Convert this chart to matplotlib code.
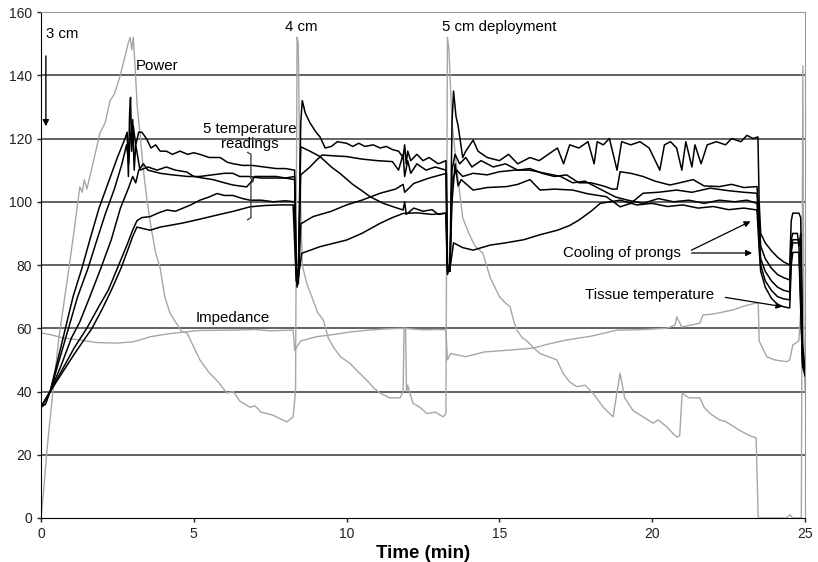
import matplotlib
matplotlib.use("Agg")
import matplotlib.pyplot as plt

plt.rcParams['font.family'] = ['Liberation Sans', 'DejaVu Sans']

# power (gray)
power_t = [0, 0.1, 0.2, 0.39, 0.6, 0.9, 1.1, 1.27, 1.35, 1.42, 1.5, 1.6, 1.93, 2.1, 2.26, 2.4, 2.58, 2.75,
           2.85, 2.92, 2.97, 3.02, 3.08, 3.15, 3.24, 3.35, 3.47, 3.6, 3.75, 3.9, 4.05, 4.22, 4.4, 4.6, 4.78,
           5.0, 5.2, 5.5, 5.8, 6.08, 6.3, 6.5, 6.84, 7.0, 7.2, 7.39, 7.6, 7.8, 8.05, 8.25, 8.33, 8.38, 8.42,
           8.47, 8.55, 8.7, 8.86, 9.05, 9.24, 9.4, 9.57, 9.8, 10.1, 10.4, 10.66, 10.9, 11.1, 11.4, 11.75,
           11.85, 11.88, 11.93, 11.96, 12.0, 12.17, 12.4, 12.63, 12.9, 13.16, 13.25, 13.3, 13.35, 13.45,
           13.6, 13.8, 14.0, 14.2, 14.46, 14.7, 15.0, 15.2, 15.35, 15.45, 15.57, 15.75, 15.9, 16.1, 16.33,
           16.6, 16.88, 17.08, 17.3, 17.54, 17.8, 18.06, 18.4, 18.72, 18.95, 19.1, 19.37, 19.7, 20.03,
           20.2, 20.48, 20.65, 20.81, 20.9, 20.98, 21.2, 21.56, 21.7, 21.9, 22.2, 22.4, 22.65, 22.9, 23.2,
           23.4, 23.47, 24.4, 24.5, 24.6, 24.88, 24.93, 24.96, 25]
power_v = [0, 10, 22, 40, 58, 78, 92, 104.7, 103, 107, 104, 108, 121.7, 125, 132, 134, 139.5, 146,
           150, 152, 148, 152, 142.6, 130, 121.7, 110, 100.5, 92, 84, 79, 70, 64.8, 62, 59, 58.5,
           54, 50, 46, 43, 39.5, 40, 37, 35, 35.5, 33.5, 33, 32.5, 31.5, 30.4, 32, 40, 152, 150,
           110, 80, 74, 70, 65, 62.6, 57, 54, 51, 49, 46, 43.6, 41, 39.5, 38, 38,
           40, 60, 60, 40, 42, 36.3, 35, 33, 33.5, 32, 33, 152, 148, 125,
           111, 95, 90, 86, 83.7, 76, 70, 68, 66.8, 63, 59.4, 57, 56, 54, 52,
           51, 50, 45.8, 43, 41.5, 42, 39.5, 35, 32, 45.8, 38, 34, 32, 30,
           31, 28.8, 27, 25.6, 26, 39.5, 38, 38, 35, 33, 31, 30.5, 29, 27.5, 26,
           25.3, 0, 0, 1, 0, 0, 143, 60, 40]

# impedance (gray)
imp_t = [0, 0.3, 0.7, 1.27, 1.8, 2.48, 3.0, 3.3, 3.57, 4.0, 4.65, 5.2, 6.3, 7.0, 7.5, 8.25, 8.3, 8.5,
         9.0, 9.56, 10.1, 10.7, 11.3, 11.85, 12.5, 13.0, 13.25, 13.3, 13.4, 13.9, 14.5, 15.2, 16.1,
         16.6, 17.2, 18.0, 18.85, 19.5, 20.48, 20.75, 20.8, 20.97, 21.56, 21.66, 22.0, 22.65, 23.0,
         23.4, 23.47, 23.5, 23.75, 24.0, 24.4, 24.5, 24.6, 24.8, 24.9]
imp_v = [58.5, 58, 57, 56.3, 55.5, 55.3, 55.7, 56.5, 57.3, 58, 58.8, 59.3, 59.4, 59.6, 59.2, 59.4, 53, 56,
         57.3, 58, 58.8, 59.4, 59.8, 60, 59.5, 59.6, 59.5, 50, 52, 51, 52.5, 53, 53.7,
         55, 56.3, 57.5, 59.4, 59.5, 60, 61, 63.6, 60.4, 61.6, 64.2, 64.5, 65.8, 67,
         68, 68, 56, 51, 50, 49.4, 50, 54.7, 56, 72]

# five temperature readings (black)
t1_t = [0, 0.15, 0.3, 0.55, 0.8, 1.05, 1.34, 1.6, 1.9, 2.2, 2.5, 2.75, 2.82, 2.86, 2.9, 2.93, 2.97, 3.02,
        3.1, 3.2, 3.3, 3.45, 3.6, 3.75, 3.9, 4.1, 4.3, 4.55, 4.8, 5.0, 5.2, 5.5, 5.86, 6.1, 6.3, 6.6,
        6.9, 7.3, 7.7, 8.0, 8.3, 8.35, 8.42, 8.5, 8.55, 8.65, 8.8, 9.0, 9.13, 9.3, 9.5, 9.7, 10.0, 10.2,
        10.4, 10.6, 10.87, 11.1, 11.3, 11.5, 11.7, 11.85, 11.9, 11.95, 12.0, 12.1, 12.3, 12.5, 12.7,
        13.0, 13.25, 13.3, 13.38,
        13.45, 13.5, 13.58, 13.65, 13.8, 13.9, 14.14, 14.3, 14.6, 15.0, 15.3, 15.6, 16.0, 16.3, 16.6,
        16.9, 17.1, 17.3, 17.6, 17.9, 18.1, 18.2, 18.4, 18.6, 18.85, 19.0, 19.3, 19.6, 19.9, 20.25,
        20.4, 20.6, 20.8, 20.97, 21.1, 21.3, 21.4, 21.6, 21.8, 22.1, 22.4, 22.6, 22.9, 23.1, 23.3,
        23.46, 23.5, 23.55, 23.7, 23.9, 24.1, 24.3, 24.5, 24.55, 24.6, 24.8, 24.86, 24.92, 25]
t1_v = [35, 36, 40, 50, 60, 70, 79, 88, 98, 106, 114, 120, 122, 108, 128, 133, 116, 124,
        118, 122, 122, 120, 117, 118, 116, 116, 115, 116, 115, 115.5, 115, 114, 114, 112.5, 112, 111.5,
        111.5, 111, 110.5, 110.5, 110, 78, 76, 125, 132, 128, 125, 122, 120.5, 117, 117.5, 119, 118.5, 117.5,
        118.5, 117.5, 118, 117, 117.5, 116.5, 116, 114, 118, 112, 116, 113, 115, 113, 114,
        112, 113, 80, 78,
        125, 135, 127, 124, 114, 116, 119.5, 116, 114, 113, 115, 112, 114, 113, 115,
        117, 112, 118, 117, 119, 112, 119, 118, 120, 110, 119, 118, 119, 117, 110,
        118, 119, 117, 110, 119, 111, 118, 112, 118, 119, 118, 120, 119, 121, 120,
        120.5, 100, 90, 87, 84.5, 82.5, 81, 80, 94, 96.4, 96.4, 95, 55, 47]

t2_t = [0, 0.3, 0.6, 0.9, 1.2, 1.54, 1.8, 2.1, 2.4, 2.65, 2.8, 2.87, 2.92, 3.0, 3.05, 3.1, 3.24, 3.5,
        3.8, 4.1, 4.4, 4.77, 5.0, 5.3, 5.63, 6.0, 6.28, 6.5, 6.73, 6.85, 7.0, 7.3, 7.7, 8.0, 8.3,
        8.35, 8.42, 8.5, 8.8, 9.0, 9.2, 9.6, 10.0, 10.5, 11.0, 11.5, 11.7, 11.85, 11.9, 12.0, 12.1,
        12.3, 12.6, 12.9, 13.25, 13.3, 13.38, 13.45, 13.55, 13.7, 13.9, 14.1, 14.4, 14.8, 15.2, 15.6,
        16.0, 16.4, 16.8, 17.2, 17.6, 18.0, 18.4, 18.7, 18.85, 18.95, 19.3, 19.7, 20.1, 20.58, 20.9,
        21.34, 21.7, 22.2, 22.6, 23.0, 23.43, 23.5, 23.55, 23.7, 23.9, 24.1, 24.3, 24.5, 24.55, 24.6,
        24.75, 24.8, 24.86, 24.92, 25]
t2_v = [35, 40, 50, 60, 70, 79, 87, 96, 104, 112, 118, 112, 120, 126, 110, 118, 110, 111,
        110, 111, 110, 109.4, 108, 107.5, 107, 106, 105.3, 105, 104.7, 106, 108, 108, 108, 107.5, 108,
        77, 76, 108.5, 111, 113, 114.8, 114.5, 114.3, 113.5, 113, 112.7, 110, 115, 108, 113, 109,
        112, 110, 111, 110, 79, 78, 110, 115, 112, 114, 111, 113, 111, 112, 110,
        110.5, 109, 108, 108.5, 106, 106, 105, 104, 104, 109.5, 109, 108, 106.5, 105.3, 106,
        107, 105, 104.8, 105.5, 104.5, 104.8, 95, 86, 82, 79, 77, 76, 75.3, 88, 90,
        90, 86, 90, 52, 45]

t3_t = [0, 0.3, 0.65, 1.0, 1.27, 1.6, 1.96, 2.3, 2.6, 2.85, 3.0, 3.1, 3.2, 3.35, 3.5, 3.9, 4.3, 4.8,
        5.2, 5.6, 6.0, 6.28, 6.5, 6.8, 7.2, 7.6, 8.0, 8.3, 8.35, 8.42, 8.5, 8.8, 9.13, 9.5, 9.78,
        10.2, 10.5, 10.77, 11.2, 11.5, 11.85, 11.9, 11.95, 12.2, 12.5, 12.8, 13.0, 13.25, 13.3, 13.38,
        13.45, 13.55, 13.65, 13.75, 14.14, 14.6, 15.24, 15.6, 16.0, 16.33, 16.8, 17.4, 17.9, 18.5,
        18.95, 19.3, 19.7, 20.2, 20.8, 21.3, 21.9, 22.5, 23.0, 23.43, 23.5, 23.55, 23.7, 23.9, 24.1,
        24.3, 24.5, 24.55, 24.6, 24.8, 24.86, 24.92, 25]
t3_v = [35, 40, 48, 57, 62, 70, 79, 88, 98, 104, 108, 106, 110, 112, 110, 109, 108.5, 108,
        108, 108.5, 109, 109, 108, 108, 107.5, 107.5, 107.5, 107, 79, 77, 117.4, 116, 114.3, 111, 109,
        105.5, 103.5, 101.6, 99.5, 98.5, 97.4, 100, 96, 98, 97, 97.5, 96, 96.4, 78, 79,
        100, 112, 105, 107, 103.7, 104.5, 104.8, 105.5, 107, 103.7, 104, 103.7, 102.5, 101.6,
        98.4, 99.5, 102.7, 103, 103.7, 103, 104.3, 103.5, 103, 102.7, 90, 82, 78, 75, 73,
        72, 71.5, 86, 88, 88, 87, 50, 48]

t4_t = [0, 0.3, 0.7, 1.1, 1.5, 1.9, 2.2, 2.5, 2.8, 3.0, 3.14, 3.3, 3.57, 3.85, 4.12, 4.4, 4.65, 4.9,
        5.2, 5.5, 5.76, 6.0, 6.28, 6.6, 6.84, 7.2, 7.6, 8.0, 8.3, 8.35, 8.42, 8.5, 8.9, 9.5, 10.0,
        10.5, 11.1, 11.6, 11.85, 11.9, 12.2, 12.7, 13.27, 13.3, 13.38, 13.45, 13.6, 13.8, 14.14, 14.6,
        15.0, 15.5, 16.0, 16.5, 17.0, 17.4, 17.8, 18.3, 18.8, 19.2, 19.7, 20.2, 20.7, 21.2, 21.7,
        22.2, 22.7, 23.1, 23.43, 23.5, 23.55, 23.7, 23.9, 24.1, 24.3, 24.5, 24.55, 24.6, 24.8,
        24.92, 25]
t4_v = [35, 40, 47, 54, 60, 67, 72, 79, 86, 91, 94, 95, 95.3, 96.5, 97.4, 97, 98, 99,
        100.5, 101.5, 102.6, 102, 102, 101, 100.5, 100.5, 100, 100.3, 100, 75, 74, 93, 95.3, 97, 99,
        100.5, 102.7, 104, 105.5, 103, 105.8, 107.5, 109, 80, 78, 107, 110, 108, 109, 108.5,
        109.5, 110, 110, 109, 108, 106, 106.5, 104, 101.5, 100.5, 99.5, 101, 100, 100.5, 99.5,
        100.5, 100, 100.5, 99.5, 88, 80, 75, 72, 70, 69.3, 69, 84, 87, 87,
        49, 46]

t5_t = [0, 0.3, 0.7, 1.1, 1.67, 2.0, 2.3, 2.62, 2.85, 3.0, 3.14, 3.35, 3.57, 3.9, 4.2, 4.65, 5.2, 5.76,
        6.3, 6.84, 7.3, 7.8, 8.25, 8.33, 8.38, 8.45, 8.53, 9.13, 10.0, 10.5, 11.1, 11.5, 11.85, 12.3,
        12.8, 13.25, 13.3, 13.4, 13.5, 13.8, 14.14, 14.7, 15.2, 15.8, 16.3, 16.9, 17.3, 17.6, 18.0,
        18.3, 18.95, 19.5, 20.0, 20.5, 21.0, 21.5, 22.0, 22.5, 23.0, 23.43, 23.5, 23.55, 23.7, 23.9,
        24.1, 24.3, 24.5, 24.55, 24.6, 24.8, 24.92, 25]
t5_v = [35, 40, 46, 52, 60, 66, 72, 79, 85, 89, 92, 91.5, 91, 92, 92.5, 93.3, 94.5, 95.8,
        97, 98.4, 98.8, 99, 99, 80, 73, 78, 83.7, 85.8, 87.9, 90, 93.2, 95, 96.3, 96.5,
        96, 96.4, 77, 80, 87, 85.5, 84.7, 86.3, 87, 88, 89.5, 91, 92.5, 94.2, 97,
        99.5, 100.5, 99, 99.5, 98.5, 99, 98, 98.5, 97.5, 98, 97.4, 85, 78, 73, 69.5,
        67.5, 66.8, 66.4, 80, 84, 84, 48, 45]

x_ticks = [0, 5, 10, 15, 20, 25]
y_ticks = [0, 20, 40, 60, 80, 100, 120, 140, 160]

fig = plt.figure(figsize=(8.18, 5.62), dpi=100)
ax = fig.add_axes([0.0501, 0.0783, 0.9340, 0.9003])

for y in y_ticks[1:-1]:
    ax.axhline(y, color='#555555', lw=1.3, zorder=1)

gray = '#a6a6a6'
ax.plot(power_t, power_v, color=gray, lw=1.0, zorder=2)
ax.plot(imp_t, imp_v, color=gray, lw=1.0, zorder=2)
for tt, vv in [(t1_t, t1_v), (t2_t, t2_v), (t3_t, t3_v), (t4_t, t4_v), (t5_t, t5_v)]:
    ax.plot(tt, vv, color='black', lw=1.1, zorder=3)

ax.set_xlim(0, 25)
ax.set_ylim(0, 160)
ax.set_xticks(x_ticks)
ax.set_yticks(y_ticks)
ax.tick_params(direction='out', length=3, width=1, labelsize=10, colors='#222222')
ax.spines['left'].set_color('black')
ax.spines['bottom'].set_color('black')
ax.spines['top'].set_color('#999999')
ax.spines['right'].set_color('#999999')
ax.set_xlabel('Time (min)', fontsize=13.5, fontweight='bold', labelpad=3)

fs = 10.8
ax.text(0.16, 153, '3 cm', fontsize=fs, va='center', ha='left')
ax.annotate('', xy=(0.16, 123), xytext=(0.16, 147),
            arrowprops=dict(arrowstyle='-|>', color='black', lw=1.0, mutation_scale=9))
ax.text(3.1, 143, 'Power', fontsize=fs, va='center', ha='left')
ax.text(6.84, 120.6, '5 temperature\nreadings', fontsize=fs, va='center', ha='center', linespacing=1.15)
ax.plot([6.76, 6.87, 6.87, 6.95, 6.87, 6.87, 6.76],
        [115.6, 115.0, 107.3, 106.6, 105.9, 95.0, 94.3], color='#333333', lw=0.9, zorder=4)
ax.text(8.51, 155.3, '4 cm', fontsize=fs, va='center', ha='center')
ax.text(13.12, 155.3, '5 cm deployment', fontsize=fs, va='center', ha='left')
ax.text(6.28, 63.2, 'Impedance', fontsize=fs, va='center', ha='center')
ax.text(17.08, 83.8, 'Cooling of prongs', fontsize=fs, va='center', ha='left')
ax.annotate('', xy=(23.3, 94.2), xytext=(21.2, 84.3),
            arrowprops=dict(arrowstyle='-|>', color='black', lw=0.9, mutation_scale=9))
ax.annotate('', xy=(23.36, 83.8), xytext=(21.2, 83.8),
            arrowprops=dict(arrowstyle='-|>', color='black', lw=0.9, mutation_scale=9))
ax.text(17.8, 70.5, 'Tissue temperature', fontsize=fs, va='center', ha='left')
ax.annotate('', xy=(24.35, 66.7), xytext=(22.3, 69.9),
            arrowprops=dict(arrowstyle='-|>', color='black', lw=0.9, mutation_scale=9))

fig.savefig('out.png', dpi=100)
